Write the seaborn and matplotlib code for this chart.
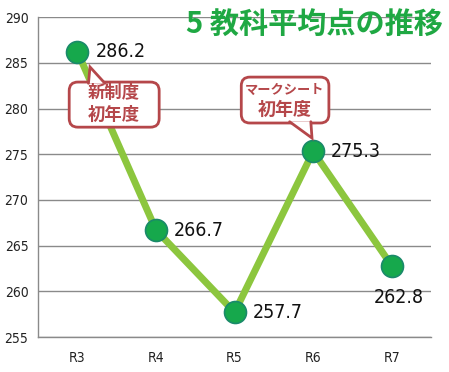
import matplotlib
matplotlib.use("Agg")
import matplotlib.pyplot as plt
from matplotlib.patches import FancyBboxPatch, Polygon
import seaborn as sns
import pandas as pd

# --- data ---
years = ["R3", "R4", "R5", "R6", "R7"]
scores = [286.2, 266.7, 257.7, 275.3, 262.8]
y_ticks = [255, 260, 265, 270, 275, 280, 285, 290]
title_text = "5 教科平均点の推移"
note_new = ["新制度", "初年度"]
note_mark = ["マークシート", "初年度"]

sns.set_style("white")
plt.rcParams["font.family"] = ["Noto Sans CJK JP", "DejaVu Sans"]

LINE_GREEN = "#8cc63e"
DOT_GREEN = "#16a84c"
DOT_EDGE = "#1a8a6a"
TITLE_GREEN = "#1fa843"
RED = "#b5474a"
GRID = "#8a8a8a"

df = pd.DataFrame({"year": years, "score": scores})

fig = plt.figure(figsize=(4.49, 3.72), dpi=100)
ax = fig.add_axes([0.085, 0.094, 0.875, 0.860])

sns.lineplot(data=df, x="year", y="score", ax=ax, color=LINE_GREEN,
             linewidth=5, sort=False, zorder=2)
sns.scatterplot(data=df, x="year", y="score", ax=ax, color=DOT_GREEN,
                s=250, edgecolor=DOT_EDGE, linewidth=1.2, zorder=3)

ax.set_xlim(-0.5, len(years) - 0.5)
ax.set_ylim(y_ticks[0], y_ticks[-1])
ax.set_yticks(y_ticks)
ax.set_xlabel("")
ax.set_ylabel("")

# grid and axes
ax.grid(axis="y", color=GRID, linewidth=1)
ax.set_axisbelow(True)
for side in ["top", "right"]:
    ax.spines[side].set_visible(False)
for side in ["left", "bottom"]:
    ax.spines[side].set_color(GRID)
    ax.spines[side].set_linewidth(1)
ax.tick_params(axis="y", length=4, color=GRID, labelsize=10, pad=3,
               labelcolor="#222222")
ax.tick_params(axis="x", which="major", length=0, labelsize=10, pad=10,
               labelcolor="#222222")
ax.set_xticks([i - 0.5 for i in range(len(years) + 1)], minor=True)
ax.tick_params(axis="x", which="minor", length=5, color=GRID, direction="out")
for lab in ax.get_xticklabels() + ax.get_yticklabels():
    lab.set_family("DejaVu Sans")
    lab.set_stretch("condensed")

# value labels (last one sits under its point)
offsets = [(13, 0), (13, 0), (13, 0), (13, 0), (-13, -23)]
for i, (v, off) in enumerate(zip(scores, offsets)):
    ax.annotate(f"{v:.1f}", (i, v), xytext=off, textcoords="offset points",
                ha="left", va="center", fontsize=14, family="DejaVu Sans",
                fontstretch="condensed", color="#111111", zorder=5)

# title
fig.text(0.986, 0.933, title_text, ha="right", va="center", fontsize=21,
         fontweight="bold", color=TITLE_GREEN)


def bubble(x0, y0, x1, y1, tip, base):
    """Rounded callout box in axes fraction with a triangular pointer."""
    box = FancyBboxPatch((x0, y0), x1 - x0, y1 - y0,
                         boxstyle="round,pad=0,rounding_size=0.022",
                         mutation_aspect=393 / 320, transform=ax.transAxes,
                         fc="white", ec=RED, lw=2, zorder=6, clip_on=False)
    ax.add_patch(box)
    tri = Polygon([base[0], tip, base[1]], closed=True, fc="white", ec="none",
                  transform=ax.transAxes, zorder=7, clip_on=False)
    ax.add_patch(tri)
    ax.plot([base[0][0], tip[0], base[1][0]], [base[0][1], tip[1], base[1][1]],
            color=RED, lw=2, transform=ax.transAxes, zorder=8,
            solid_joinstyle="miter", clip_on=False)


def note(x, y, s, size):
    ax.text(x, y, s, transform=ax.transAxes, ha="center", va="center",
            fontsize=size, fontweight="bold", color=RED, zorder=9)


bubble(0.079, 0.656, 0.308, 0.797, (0.132, 0.844),
       [(0.128, 0.793), (0.170, 0.793)])
note(0.193, 0.762, note_new[0], 12.5)
note(0.193, 0.694, note_new[1], 12.5)

bubble(0.517, 0.669, 0.740, 0.8125, (0.697, 0.622),
       [(0.640, 0.673), (0.694, 0.673)])
note(0.627, 0.774, note_mark[0], 9.5)
note(0.627, 0.710, note_mark[1], 13)

fig.savefig("out.png", dpi=100)
